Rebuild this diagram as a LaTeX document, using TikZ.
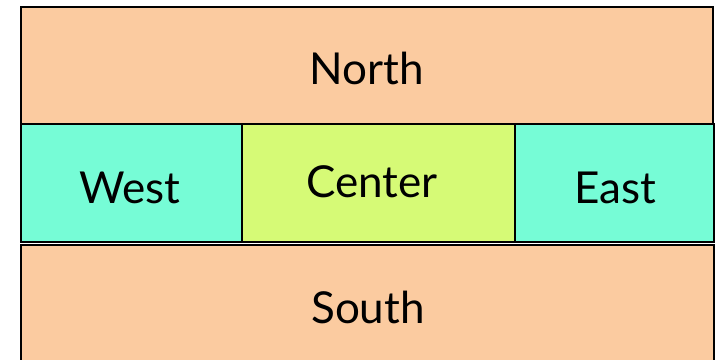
\documentclass[tikz,border=0pt]{standalone}
\usepackage{fontspec}
\setmainfont{Lato}
\definecolor{peach}{HTML}{FBCBA0}
\definecolor{aqua}{HTML}{76FCD6}
\definecolor{lime}{HTML}{D6FA76}
\begin{document}
\begin{tikzpicture}[x=1pt,y=-1pt,
  region/.style={draw=black,line width=2.4pt},
  lbl/.style={font=\fontsize{44}{50}\selectfont,text=black,anchor=base}]
\useasboundingbox (0,0) rectangle (718,359);
\clip (0,0) rectangle (718,359);
\fill[white] (0,0) rectangle (718,359);
\draw[region,fill=peach] (21,7) rectangle (713,124);
\draw[region,fill=aqua] (21,124) rectangle (242,242);
\draw[region,fill=lime] (242,124) rectangle (515,242);
\draw[region,fill=aqua] (515,124) rectangle (714,242);
\draw[region,fill=peach] (21,245) rectangle (714,370);
\node[lbl] (north) at (367,84) {North};
\node[lbl] (west) at (130,203) {West};
\node[lbl] (center) at (372,197) {Center};
\node[lbl] (east) at (615,203) {East};
\node[lbl] (south) at (368,323) {South};
\end{tikzpicture}
\end{document}
